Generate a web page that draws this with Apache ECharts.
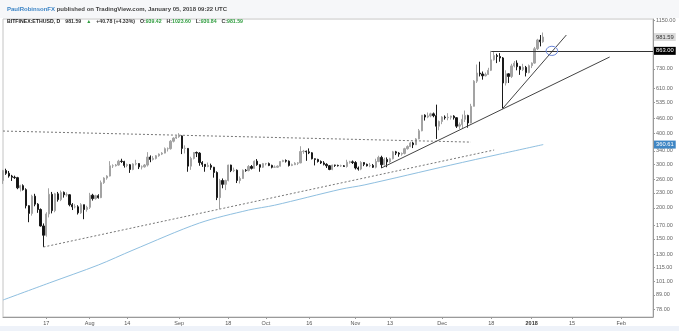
<!DOCTYPE html>
<html><head><meta charset="utf-8">
<script src="https://cdn.jsdelivr.net/npm/echarts@6/dist/echarts.min.js"></script>
<style>html,body{margin:0;padding:0;background:#fff;}#c{width:679px;height:331px;}</style>
</head><body><div id="c"></div>
<script>
// ---- daily candles [open, close, low, high], first candle 2017-07-02 ----
const jul = [
[258,283,250,285],[283,276,272,288],[276,269,265,282],[269,266,257,272],[266,265,262,270],
[265,241,238,267],[241,246,233,248],[246,237,235,249],[237,204,199,240],[204,190,175,205],
[190,223,186,226],[223,207,203,228],[207,197,191,209],[197,169,168,199],[169,155,139,173],
[155,189,153,192],[189,227,183,240],[227,195,190,232],[195,228,192,230],[228,216,212,232],
[216,231,213,235],[231,226,220,233],[226,226,222,231],[226,206,203,227],[206,202,196,209],
[202,202,199,207],[202,191,188,205],[191,206,189,209],[206,197,180,206],[197,201,193,204]
];
const aug = [
[201,225,198,230],[225,218,214,228],[218,224,216,226],[224,220,218,227],[220,253,219,258],
[253,264,250,266],[264,269,260,271],[269,296,268,309],[296,296,290,300],[296,298,294,301],
[298,309,296,313],[309,308,304,316],[308,297,291,310],[297,299,292,302],[299,286,277,301],
[286,301,284,303],[301,302,297,313],[302,293,287,303],[293,293,286,297],[293,298,291,301],
[298,321,294,336],[321,314,306,326],[314,317,311,324],[317,325,314,327],[325,330,322,332],
[330,333,327,336],[333,347,332,351],[347,347,338,351],[347,372,344,376],[372,383,368,386],
[383,388,380,392]
];
const sep = [
[388,391,384,401],[391,348,330,393],[348,348,332,358],[348,295,280,349],[295,317,285,322],
[317,335,314,336],[335,333,321,338],[333,305,296,336],[305,300,293,309],[300,294,280,300],
[294,297,292,305],[297,292,285,302],[292,278,265,293],[278,220,215,281],[220,258,198,262],
[258,249,240,263],[249,258,236,260],[258,298,256,299],[298,283,279,299],[283,284,279,291],
[284,258,252,286],[258,263,251,268],[263,284,262,286],[284,283,280,287],[283,294,281,298],
[294,289,286,298],[289,309,288,311],[309,299,296,315],[299,292,280,300],[292,302,290,304]
];
const oct = [
[302,302,297,304],[302,297,295,305],[297,292,289,299],[292,292,290,297],[292,295,290,297],
[295,308,294,309],[308,311,306,313],[311,309,305,314],[309,297,294,311],[297,299,295,302],
[299,303,298,306],[303,304,298,306],[304,338,303,355],[338,339,331,343],[339,337,310,341],
[337,334,330,348],[334,316,314,336],[316,314,297,317],[314,308,305,316],[308,304,301,311],
[304,300,297,309],[300,296,290,303],[296,286,284,298],[286,298,284,299],[298,297,293,299],
[297,296,294,299],[296,296,293,299],[296,294,293,298],[294,306,291,313],[306,307,302,310],
[307,305,301,311]
];
const nov = [
[305,290,286,309],[290,287,283,294],[287,305,284,309],[305,300,295,306],[300,296,294,302],
[296,297,292,304],[297,292,290,301],[292,308,289,316],[308,320,306,325],[320,299,290,325],
[299,314,296,319],[314,307,292,320],[307,316,304,319],[316,337,314,340],[337,333,327,340],
[333,330,322,336],[330,332,325,335],[332,347,329,350],[347,354,344,358],[354,366,352,370],
[366,360,349,370],[360,380,359,383],[380,410,379,417],[410,474,408,475],[474,466,451,478],
[466,471,461,486],[471,480,465,485],[480,472,465,486],[472,428,380,523],[428,447,412,451]
];
const dec = [
[447,466,436,470],[466,463,455,473],[463,465,452,483],[465,470,455,472],[470,463,455,474],
[463,428,421,465],[428,434,417,443],[434,456,420,477],[456,473,445,495],[473,441,422,476],
[441,515,439,527],[515,651,514,657],[651,702,640,760],[702,696,680,780],[696,684,660,712],
[684,693,680,705],[693,720,690,737],[720,794,715,863],[794,826,788,862],[826,819,770,840],
[819,808,780,845],[808,640,505,815],[640,697,625,720],[697,680,640,700],[680,750,670,765],
[750,770,740,785],[770,745,720,790],[745,725,690,750],[725,740,715,765],[740,705,680,750],
[705,752,700,760]
];
const jan = [
[752,770,735,775],[770,880,765,895],[880,955,870,965],[955,939,900,1000],[939.42,981.59,930.84,1023.60]
];
// ---- 200-day SMA ----
const smaPts = [
['2017-07-02',84.8],['2017-07-18',99.4],['2017-08-04',117.5],['2017-08-16',135],
['2017-09-08',173.7],['2017-09-25',196],['2017-10-04',205],['2017-10-27',238],
['2017-11-04',247.5],['2017-12-04',298],['2017-12-21',330],['2018-01-05',360.61]
];
// ---- drawn trend lines ----
const upperDashed = [['2017-07-02',409],['2017-12-11',369]];
const lowerDashed = [['2017-07-16',138.9],['2017-12-19',342.8]];
const longTrend = [['2017-11-10',290],['2018-01-28',815]];
const steepTrend = [['2017-12-22',505],['2018-01-13',1000]];
const resistance = [['2017-12-18',863],['2018-02-12',863]];
const circleAt = ['2018-01-08',863];
// ---- axis ticks / labels ----
const yTicks = [78,89,101,115,130,150,170,200,230,260,300,340,400,460,535,610,730,1150];
const xLabelDates = ['2017-07-17','2017-08-01','2017-08-14','2017-09-01','2017-09-18','2017-10-01','2017-10-16','2017-11-01','2017-11-13','2017-12-01','2017-12-18','2018-01-01','2018-01-15','2018-02-01'];
const xLabelTexts = ['17','Aug','14','Sep','18','Oct','16','Nov','13','Dec','18','2018','15','Feb'];
const lastPrice = 981.59, smaLast = 360.61, levelPrice = 863.00;

function dayList(a,b){const out=[];let d=Date.parse(a+'T00:00:00Z');const e=Date.parse(b+'T00:00:00Z');while(d<=e){out.push(new Date(d).toISOString().slice(0,10));d+=86400000;}return out;}
const cats = dayList('2017-07-02','2018-02-12');
const candles = [].concat(jul,aug,sep,oct,nov,dec,jan);
const labelMap = {}; xLabelDates.forEach((d,i)=>labelMap[d]=xLabelTexts[i]);
const labelIdx = new Set(xLabelDates.map(d=>cats.indexOf(d)));

const FONT = '"Liberation Sans", Arial, sans-serif';
const chart = echarts.init(document.getElementById('c'), null, {renderer:'canvas'});
const trendLine = (name, data, color, type) => ({
  name, type:'line', data, symbol:'none', silent:true, z:3,
  lineStyle:{color, width:1, type}, animation:false
});
const CLEAR = 'rgba(0,0,0,0)';
const option = {
  animation:false,
  backgroundColor:'#ffffff',
  textStyle:{fontFamily:FONT},
  title:[{
    left:2, top:1,
    text:'{a|PaulRobinsonFX}{b| published on TradingView.com, January 05, 2018 09:22 UTC}',
    textStyle:{rich:{a:{color:'#3d85c6',fontSize:6,fontFamily:FONT},b:{color:'#444',fontSize:6,fontFamily:FONT}}}
  },{
    left:2, top:8,
    text:'{k|BITFINEX:ETHUSD, D} {v|981.59} {g|▲} {v|+40.78 (+4.33%)} {v|O:}{g|939.42} {v|H:}{g|1023.60} {v|L:}{g|930.84} {v|C:}{g|981.59}',
    textStyle:{rich:{k:{color:'#222',fontSize:5.2,fontWeight:'bold',fontFamily:FONT},v:{color:'#333',fontSize:5.2,fontFamily:FONT},g:{color:'#2e9d3e',fontSize:5.2,fontFamily:FONT}}}
  }],
  grid:{left:3,right:26,top:19,bottom:14,show:true,borderColor:'#c4c4c4',borderWidth:1,backgroundColor:'#fff'},
  xAxis:{
    type:'category', data:cats, boundaryGap:false,
    axisLine:{lineStyle:{color:'#9a9a9a'}},
    axisTick:{show:true,length:2,interval:(i)=>labelIdx.has(i),lineStyle:{color:'#9a9a9a'}},
    axisLabel:{interval:(i)=>labelIdx.has(i),formatter:(v)=>labelMap[v]==='2018'?'{b|2018}':(labelMap[v]||''),
      fontSize:5.5,color:'#555',margin:3,fontFamily:FONT,rich:{b:{fontWeight:'bold',fontSize:5.5,color:'#333'}}},
    splitLine:{show:false}
  },
  yAxis:{
    type:'log', logBase:10, min:72.4, max:1161, position:'right',
    axisLine:{show:true,lineStyle:{color:'#9a9a9a'}},
    axisTick:{show:true,length:2,customValues:yTicks,lineStyle:{color:'#9a9a9a'}},
    axisLabel:{customValues:yTicks,formatter:(v)=>Number(v).toFixed(2),fontSize:5.5,color:'#666',margin:3,fontFamily:FONT},
    splitLine:{show:false}
  },
  series:[
    {name:'ETHUSD',type:'candlestick',data:candles,barWidth:1.8,z:2,
      itemStyle:{color:'#a3a3a3',color0:'#111111',borderColor:'#a3a3a3',borderColor0:'#1a1a1a',borderWidth:1},
      markLine:{silent:true,symbol:'none',animation:false,
        data:[
          [{coord:resistance[0],lineStyle:{color:'#333',width:1,type:'solid'},
             label:{show:true,position:'end',distance:1,formatter:levelPrice.toFixed(2),color:'#fff',backgroundColor:'#000',padding:[1,2],fontSize:5.8,fontFamily:FONT}},
           {coord:resistance[1]}],
          {yAxis:lastPrice,lineStyle:{color:CLEAR,width:0},
             label:{show:true,position:'end',distance:1,formatter:lastPrice.toFixed(2),color:'#333',backgroundColor:'#dcdcdc',padding:[1,2],fontSize:5.8,fontFamily:FONT}}
        ]}
    },
    {name:'SMA',type:'line',data:smaPts,symbol:'none',smooth:0.3,z:1,
      lineStyle:{color:'#8fbfe0',width:1},
      markLine:{silent:true,symbol:'none',animation:false,
        data:[{yAxis:smaLast,lineStyle:{color:CLEAR,width:0},
          label:{show:true,position:'end',distance:1,formatter:smaLast.toFixed(2),color:'#fff',backgroundColor:'#3f86c4',padding:[1,2],fontSize:5.8,fontFamily:FONT}}]}
    },
    trendLine('upperDashed',upperDashed,'#777',[2,2]),
    trendLine('lowerDashed',lowerDashed,'#777',[2,2]),
    trendLine('longTrend',longTrend,'#444','solid'),
    trendLine('steepTrend',steepTrend,'#444','solid')
  ],
  graphic:[
    {id:'hdr',type:'rect',shape:{x:0,y:0,width:679,height:18},style:{fill:'#f6f7f9'},z:-10,silent:true},
    {id:'ftr',type:'rect',shape:{x:0,y:326,width:679,height:5},style:{fill:'#eef2f9'},z:-10,silent:true}
  ]
};
chart.setOption(option);
const cp = chart.convertToPixel({xAxisIndex:0,yAxisIndex:0}, circleAt);
chart.setOption({graphic:[
  {id:'hdr',type:'rect',shape:{x:0,y:0,width:679,height:18},style:{fill:'#f6f7f9'},z:-10,silent:true},
  {id:'ftr',type:'rect',shape:{x:0,y:326,width:679,height:5},style:{fill:'#eef2f9'},z:-10,silent:true},
  {id:'ell',type:'ellipse',shape:{cx:cp[0],cy:cp[1],rx:5.8,ry:4.6},style:{fill:'none',stroke:'#6b86d8',lineWidth:1},z:100,silent:true}
]});
</script>
</body></html>
